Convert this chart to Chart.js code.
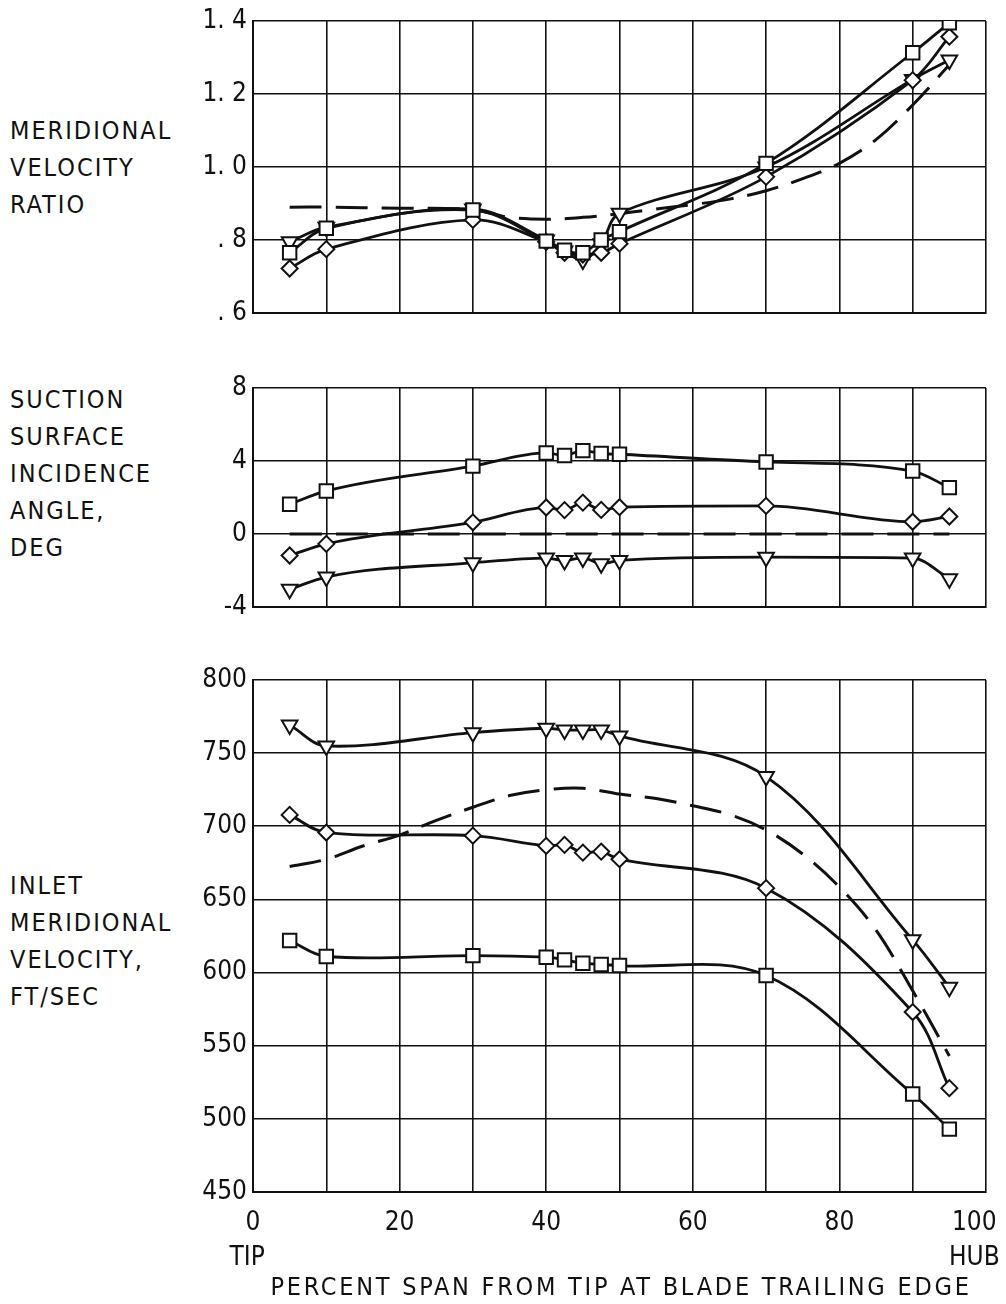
<!DOCTYPE html>
<html>
<head>
<meta charset="utf-8">
<script src="https://cdn.jsdelivr.net/npm/chart.js@4.4.0/dist/chart.umd.min.js"></script>
<style>
  body { margin: 0; background: #fff; }
  #page { position: relative; width: 1006px; height: 1304px; overflow: hidden; background: #fff; }
  canvas { position: absolute; left: 0; }
  .label {
    position: absolute; left: 10px; color: #111;
    font: 25px "DejaVu Sans Condensed", "DejaVu Sans", sans-serif;
    letter-spacing: 2px; line-height: 37px; white-space: nowrap;
  }
  #xtitle { left: 0; width: 1242px; text-align: center; top: 1268px; letter-spacing: 2.75px; }
</style>
</head>
<body>
<div id="page">
  <div class="label" style="top:112px">MERIDIONAL<br>VELOCITY<br>RATIO</div>
  <div class="label" style="top:381px">SUCTION<br>SURFACE<br>INCIDENCE<br>ANGLE,<br>DEG</div>
  <div class="label" style="top:867px">INLET<br>MERIDIONAL<br>VELOCITY,<br>FT/SEC</div>
  <canvas id="ratio" width="1006" height="330" style="top:0px"></canvas>
  <canvas id="incidence" width="1006" height="260" style="top:360px"></canvas>
  <canvas id="velocity" width="1006" height="654" style="top:650px"></canvas>
  <div class="label" id="xtitle">PERCENT SPAN FROM TIP AT BLADE TRAILING EDGE</div>
</div>
<script>
"use strict";

// measuring stations, percent span from tip
const spanPct = [5, 10, 30, 40, 42.5, 45, 47.5, 50, 70, 90, 95];

// meridional velocity ratio
const ratioSquare = [0.765, 0.832, 0.882, 0.797, 0.772, 0.765, 0.800, 0.823, 1.010, 1.313, 1.395];
const ratioDiamond = [0.722, 0.775, 0.855, 0.795, 0.765, 0.760, 0.765, 0.790, 0.973, 1.238, 1.357];
const ratioTriangle = [0.795, 0.835, 0.885, 0.800, 0.770, 0.745, 0.790, 0.873, 1.000, 1.240, 1.293];
const ratioDashX = [5, 10, 20, 30, 35, 40, 45, 50, 55, 60, 65, 70, 75, 80, 85, 90, 95];
const ratioDash = [0.89, 0.89, 0.887, 0.883, 0.862, 0.857, 0.862, 0.872, 0.885, 0.897, 0.912, 0.935, 0.968, 1.01, 1.075, 1.17, 1.28];
const ratioTicks = [". 6", ". 8", "1. 0", "1. 2", "1. 4"];

// suction surface incidence angle, deg
const incSquare = [1.63, 2.36, 3.72, 4.44, 4.30, 4.57, 4.41, 4.37, 3.95, 3.45, 2.54];
const incDiamond = [-1.18, -0.54, 0.64, 1.45, 1.31, 1.72, 1.32, 1.47, 1.54, 0.67, 0.96];
const incTriangle = [-3.03, -2.36, -1.58, -1.32, -1.45, -1.31, -1.63, -1.45, -1.27, -1.32, -2.45];
const incDashX = [5, 95];
const incDash = [0, 0];
const incTicks = ["-4", "0", "4", "8"];

// inlet meridional velocity, ft/sec
const velSquare = [621.9, 611, 611.6, 610.5, 608.7, 606.4, 605.5, 604.8, 598, 517, 493];
const velDiamond = [707.8, 695.7, 693.6, 686.6, 687.3, 682, 682.7, 677.5, 657.7, 573, 521];
const velTriangle = [769.3, 754.9, 764, 767, 765.8, 765.8, 765.8, 761.8, 734, 622.4, 590];
const velDashX = [5, 10, 15, 20, 25, 30, 35, 40, 45, 50, 55, 60, 65, 70, 75, 80, 85, 90, 95];
const velDash = [672.5, 677.5, 686.5, 694, 704, 713, 721, 725, 726, 722, 719, 714, 708, 697.5, 681, 658.5, 629, 587.5, 543];
const velTicks = ["450", "500", "550", "600", "650", "700", "750", "800"];

const spanTicks = ["0", "20", "40", "60", "80", "100"];
const spanEnds = ["TIP", "HUB"];

const ink = "#111";
Chart.defaults.font.family = '"DejaVu Sans Condensed", "DejaVu Sans", sans-serif';
Chart.defaults.font.size = 26;
Chart.defaults.color = ink;

const series = (xs, ys, style, smooth) => ({
	data: xs.map((x, i) => ({ x: x, y: ys[i] })),
	borderColor: ink,
	borderWidth: style ? 2.8 : 3,
	borderDash: style ? [] : [32, 14],
	tension: 0.35,
	cubicInterpolationMode: smooth || "default",
	pointStyle: style || false,
	pointRadius: style === "rect" ? 9.5 : style === "triangle" ? 9 : style ? 8 : 0,
	pointRotation: style === "triangle" ? 180 : 0,
	pointBackgroundColor: "#fff",
	pointBorderColor: ink,
	pointBorderWidth: 2,
});

// end stations carry a second line; the en spaces nudge them inward
const spanLabel = (v) => {
	if (v % 20 !== 0) return "";
	const lbl = spanTicks[v / 20];
	if (v === 0) return [lbl, spanEnds[0] + "\u2002"];
	if (v === 100) return [lbl + "\u2002\u2002", spanEnds[1] + "\u2002\u2002"];
	return lbl;
};

const makePanel = (id, padTop, padBottom, yMin, yMax, yStep, yLabels, datasets, showX) => {
	const ctx = document.getElementById(id).getContext("2d");
	return new Chart(ctx, {
		type: "line",
		data: { datasets: datasets },
		options: {
			responsive: false,
			animation: false,
			devicePixelRatio: 1,
			layout: { padding: { top: padTop, bottom: padBottom, left: 0, right: 20 } },
			plugins: { legend: { display: false }, tooltip: { enabled: false } },
			scales: {
				x: {
					type: "linear",
					min: 0,
					max: 100,
					ticks: {
						stepSize: 10,
						display: showX,
						autoSkip: false,
						maxRotation: 0,
						padding: 14,
						font: { lineHeight: 1.35 },
						callback: spanLabel,
					},
					grid: { color: ink, lineWidth: 1.6, drawTicks: false },
					border: { color: ink, width: 2 },
					afterFit: (s) => {
						s.height = showX ? 112 : 0;
						s.paddingLeft = 0;
						s.paddingRight = 0;
					},
				},
				y: {
					min: yMin,
					max: yMax,
					ticks: {
						stepSize: yStep,
						padding: 6,
						callback: (v, i) => yLabels[i],
					},
					grid: { color: ink, lineWidth: 1.6, drawTicks: false },
					border: { color: ink, width: 2 },
					afterFit: (s) => {
						s.width = 253;
						s.paddingTop = 0;
						s.paddingBottom = 0;
					},
				},
			},
		},
	});
};

makePanel("ratio", 21, 17, 0.6, 1.4, 0.2, ratioTicks, [
	series(spanPct, ratioSquare, "rect"),
	series(spanPct, ratioDiamond, "rectRot"),
	series(spanPct, ratioTriangle, "triangle"),
	series(ratioDashX, ratioDash, null),
], false);

// incidence curves stay flat between stations, so no overshoot here
makePanel("incidence", 28, 13, -4, 8, 4, incTicks, [
	series(spanPct, incSquare, "rect", "monotone"),
	series(spanPct, incDiamond, "rectRot", "monotone"),
	series(spanPct, incTriangle, "triangle", "monotone"),
	series(incDashX, incDash, null),
], false);

makePanel("velocity", 30, 0, 450, 800, 50, velTicks, [
	series(spanPct, velSquare, "rect"),
	series(spanPct, velDiamond, "rectRot"),
	series(spanPct, velTriangle, "triangle"),
	series(velDashX, velDash, null),
], true);
</script>
</body>
</html>
